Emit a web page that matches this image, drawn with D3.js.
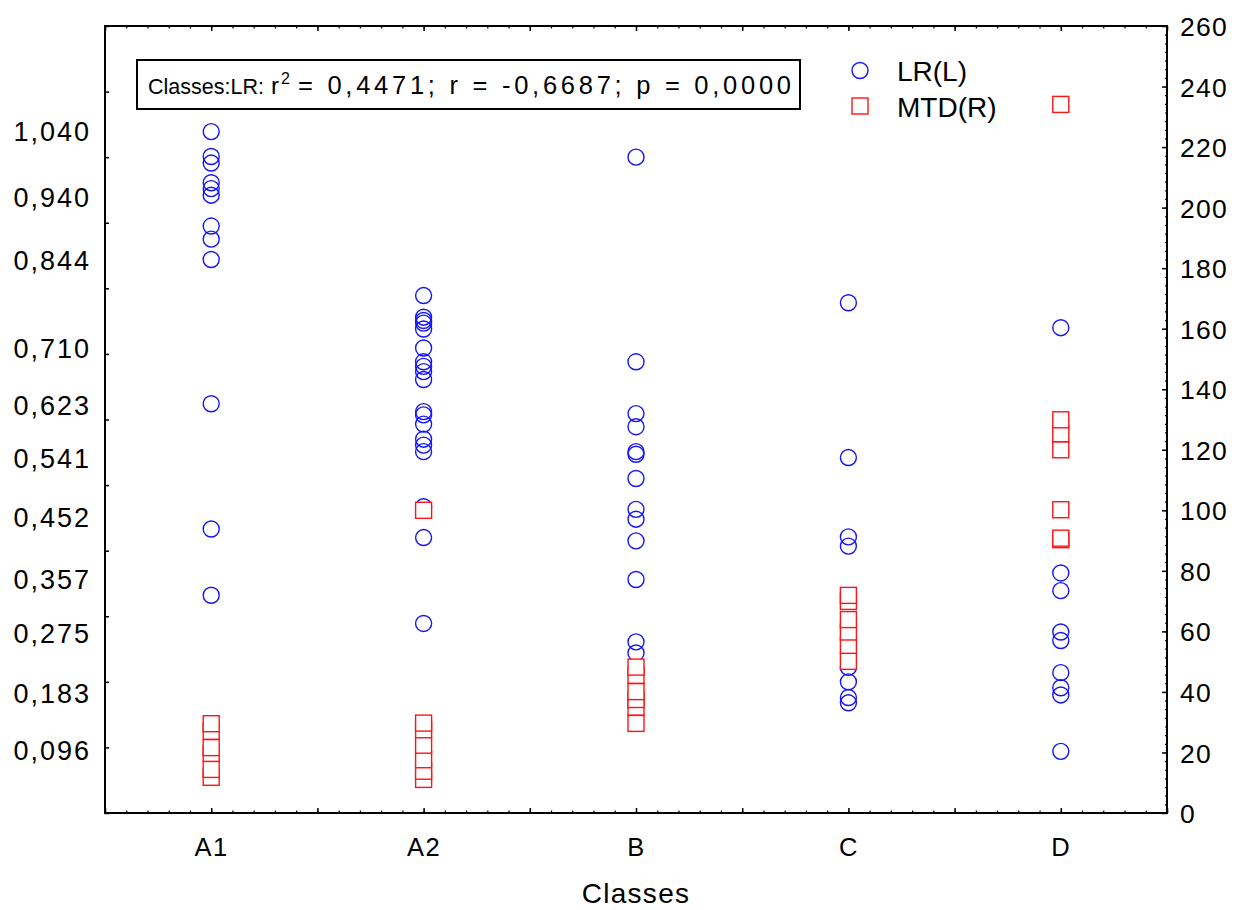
<!DOCTYPE html>
<html>
<head>
<meta charset="utf-8">
<script src="https://cdn.jsdelivr.net/npm/d3@7"></script>
<style>
body { margin: 0; background: #fff; }
svg { display: block; }
text { font-family: 'Liberation Sans', Arial, sans-serif; fill: #000; }
</style>
</head>
<body>
<svg id="chart" width="1237" height="910"></svg>
<script>
// categories
const classes = ["A1", "A2", "B", "C", "D"];

// LR values (left axis), one array per class
const lrA1 = [1.039, 1.001, 0.991, 0.961, 0.952, 0.942, 0.895, 0.875, 0.844, 0.624, 0.433, 0.332];
const lrA2 = [0.789, 0.756, 0.751, 0.747, 0.738, 0.709, 0.688, 0.681, 0.673, 0.661, 0.612, 0.607,
              0.593, 0.570, 0.561, 0.551, 0.467, 0.420, 0.289];
const lrB  = [1.000, 0.688, 0.609, 0.589, 0.551, 0.547, 0.510, 0.463, 0.448, 0.415, 0.356, 0.261, 0.244];
const lrC  = [0.778, 0.542, 0.421, 0.407, 0.222, 0.200, 0.176, 0.168];
const lrD  = [0.740, 0.366, 0.339, 0.276, 0.263, 0.214, 0.191, 0.180, 0.094];

// MTD values (right axis)
const mtdA1 = [29.5, 27.0, 21.6, 19.7, 14.4, 11.8];
const mtdA2 = [100, 29.7, 27.5, 22.4, 17.6, 13.8, 11.1];
const mtdB  = [48.2, 45.5, 40.1, 37.5, 35.0, 29.6];
const mtdC  = [71.9, 69.9, 63.9, 59.8, 55.4, 50.1];
const mtdD  = [234.1, 129.9, 125.3, 120.0, 100.2, 90.8, 90.3];

// left axis labels (values shown on the LR axis)
const leftLabels = [1.040, 0.940, 0.844, 0.710, 0.623, 0.541, 0.452, 0.357, 0.275, 0.183, 0.096];
const leftDomain = [0, 1.2];
const rightDomain = [0, 260];
const rightTicks = d3.range(0, 261, 20);

const legendItems = ["LR(L)", "MTD(R)"];
const xTitle = "Classes";
const statsHead = "Classes:LR:";
const statsBody = "= 0,4471;  r = -0,6687; p = 0,0000";

const lrByClass = [lrA1, lrA2, lrB, lrC, lrD];
const mtdByClass = [mtdA1, mtdA2, mtdB, mtdC, mtdD];

const W = 1237, H = 910;
const margin = { left: 105, right: 70, top: 26, bottom: 97 };
const x0 = margin.left, x1 = W - margin.right;
const y0 = H - margin.bottom, y1 = margin.top;

const svg = d3.select('#chart');

const x = d3.scalePoint().domain(classes).range([x0, x1]).padding(0.5);
const xt = d3.scaleLinear().domain([0, classes.length]).range([x0, x1]);
const yL = d3.scaleLinear().domain(leftDomain).range([y0, y1]);
const yR = d3.scaleLinear().domain(rightDomain).range([y0, y1]);

const comma = d => d3.format('.3f')(d).replace('.', ',');

// points
const lrPoints = [];
lrByClass.forEach((arr, i) => arr.forEach(v => lrPoints.push({ c: classes[i], v })));
const mtdPoints = [];
mtdByClass.forEach((arr, i) => arr.forEach(v => mtdPoints.push({ c: classes[i], v })));
mtdPoints.sort((a, b) => a.v - b.v);

const plot = svg.append('g');

plot.selectAll('circle.lr')
  .data(lrPoints)
  .enter()
  .append('circle')
  .attr('class', 'lr')
  .attr('cx', d => x(d.c))
  .attr('cy', d => yL(d.v))
  .attr('r', 8)
  .attr('fill', 'none')
  .attr('stroke', '#1414ff')
  .attr('stroke-width', 1.4);

plot.selectAll('rect.mtd')
  .data(mtdPoints)
  .enter()
  .append('rect')
  .attr('class', 'mtd')
  .attr('x', d => x(d.c) - 8)
  .attr('y', d => yR(d.v) - 8)
  .attr('width', 16)
  .attr('height', 16)
  .attr('fill', '#fff')
  .attr('stroke', '#ff1414')
  .attr('stroke-width', 1.4);

// frame
svg.append('rect')
  .attr('x', x0).attr('y', y1)
  .attr('width', x1 - x0).attr('height', y0 - y1)
  .attr('fill', 'none')
  .attr('stroke', '#000')
  .attr('stroke-width', 2);

function tickStyle(g) {
  g.select('.domain').remove();
  g.selectAll('.tick line').attr('stroke', '#000').attr('stroke-width', 1.5);
}

// left ticks (unlabelled, inward)
svg.append('g')
  .attr('transform', `translate(${x0},0)`)
  .call(d3.axisLeft(yL).tickValues(d3.range(0, 1.21, 0.1)).tickSize(-4).tickFormat(''))
  .call(tickStyle);

// left labels
svg.append('g')
  .attr('transform', `translate(${x0},0)`)
  .call(d3.axisLeft(yL).tickValues(leftLabels).tickSize(0).tickPadding(14).tickFormat(comma))
  .call(g => {
    g.select('.domain').remove();
    g.selectAll('text')
      .attr('font-size', 27)
      .attr('letter-spacing', '2px')
      .attr('dy', '0.36em')
      .style('font-family', "'Liberation Sans', Arial, sans-serif");
  });

// right axis
svg.append('g')
  .attr('transform', `translate(${x1},0)`)
  .call(d3.axisRight(yR).tickValues(d3.range(0, 261, 20 / 7)).tickSize(-2).tickFormat(''))
  .call(tickStyle)
  .call(g => g.selectAll('.tick line').attr('stroke-width', 1.2));
svg.append('g')
  .attr('transform', `translate(${x1},0)`)
  .call(d3.axisRight(yR).tickValues(rightTicks).tickSize(-5).tickPadding(13))
  .call(tickStyle)
  .call(g => g.selectAll('text')
    .attr('font-size', 26.5)
    .attr('letter-spacing', '1.2px')
    .attr('dy', '0.36em')
    .style('font-family', "'Liberation Sans', Arial, sans-serif"));

// top and bottom ticks
const majorX = d3.range(0, classes.length + 0.01, 0.5);
const minorX = d3.range(0, classes.length + 0.01, 0.1);
[[d3.axisBottom, y0], [d3.axisTop, y1]].forEach(([ax, yy]) => {
  svg.append('g')
    .attr('transform', `translate(0,${yy})`)
    .call(ax(xt).tickValues(minorX).tickSize(-2.5).tickFormat(''))
    .call(tickStyle)
    .call(g => g.selectAll('.tick line').attr('stroke-width', 1.2));
  svg.append('g')
    .attr('transform', `translate(0,${yy})`)
    .call(ax(xt).tickValues(majorX).tickSize(-5).tickFormat(''))
    .call(tickStyle);
});

// category labels
svg.append('g')
  .attr('transform', `translate(0,${y0})`)
  .call(d3.axisBottom(x).tickSize(0).tickPadding(0))
  .call(g => {
    g.select('.domain').remove();
    g.selectAll('text')
      .attr('y', 43)
      .attr('dy', 0)
      .attr('font-size', 25.5)
      .attr('letter-spacing', '1.5px')
      .style('font-family', "'Liberation Sans', Arial, sans-serif");
  });

// x title
svg.append('text')
  .attr('x', (x0 + x1) / 2)
  .attr('y', 903)
  .attr('text-anchor', 'middle')
  .attr('font-size', 28)
  .attr('letter-spacing', '1.3px')
  .text(xTitle);

// stats box
svg.append('rect')
  .attr('x', 137).attr('y', 60)
  .attr('width', 663).attr('height', 49)
  .attr('fill', '#fff')
  .attr('stroke', '#000')
  .attr('stroke-width', 2);
const st = svg.append('text')
  .attr('y', 94)
  .attr('font-size', 24);
st.append('tspan').attr('x', 148)
  .attr('font-size', 21.5)
  .text(statsHead);
st.append('tspan').attr('x', 271).text('r');
st.append('tspan').attr('x', 281).attr('dy', -10).attr('font-size', 16).text('2');
st.append('tspan').attr('x', 298).attr('dy', 10)
  .attr('font-size', 25.5)
  .attr('textLength', 493)
  .attr('lengthAdjust', 'spacing')
  .text(statsBody);

// legend
const legend = svg.append('g').attr('transform', 'translate(860,70.5)');
const li = legend.selectAll('g')
  .data(legendItems)
  .enter()
  .append('g')
  .attr('transform', (d, i) => `translate(0,${i * 35.5})`);
li.filter((d, i) => i === 0).append('circle')
  .attr('r', 8).attr('fill', 'none').attr('stroke', '#1414ff').attr('stroke-width', 1.4);
li.filter((d, i) => i === 1).append('rect')
  .attr('x', -8).attr('y', -8).attr('width', 16).attr('height', 16)
  .attr('fill', '#fff').attr('stroke', '#ff1414').attr('stroke-width', 1.4);
li.append('text')
  .attr('x', 37)
  .attr('y', 10.5)
  .attr('font-size', 28)
  .text(d => d);
</script>
</body>
</html>
